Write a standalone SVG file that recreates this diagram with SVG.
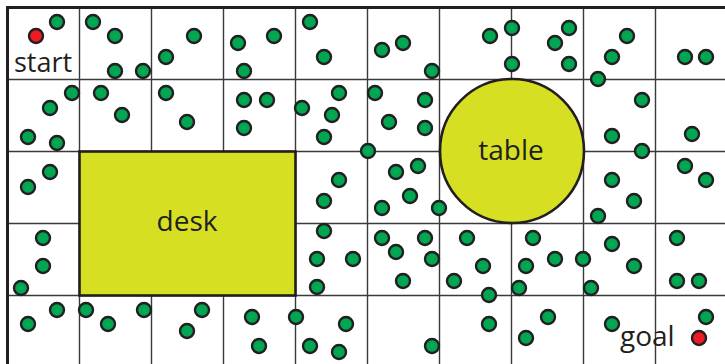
<svg xmlns="http://www.w3.org/2000/svg" width="725" height="364" viewBox="0 0 725 364">
<style>
.grid{stroke:#3a3a3a;stroke-width:1.4;fill:none}
.border{stroke:#231f20;stroke-width:3;fill:none}
.obst{fill:#d7df23;stroke:#231f20;stroke-width:2.6}
.s{fill:#00a651;stroke:#231f20;stroke-width:2.4}
.r{fill:#ed1c24;stroke:#231f20;stroke-width:2.4}
.lbl{font-family:"Open Sans","Noto Sans",sans-serif;font-size:28px;fill:#231f20}
</style>
<rect width="725" height="364" fill="#ffffff"/>
<g id="grid">
<path class="grid" d="M79.5 7V368M151.5 7V368M223.5 7V368M295.5 7V368M367.5 7V368M439.5 7V368M511.5 7V368M583.5 7V368M655.5 7V368M7 79.5H728M7 151.5H728M7 223.5H728M7 295.5H728"/>
<rect class="border" x="7.5" y="7.5" width="721" height="361"/>
</g>
<g id="desk">
<rect class="obst" x="79.5" y="151.5" width="216" height="144"/>
<text class="lbl" x="187" y="231" text-anchor="middle">desk</text>
</g>
<g id="table">
<circle class="obst" cx="512" cy="151" r="72"/>
<text class="lbl" x="511" y="159.5" text-anchor="middle">table</text>
</g>
<g id="samples">
<circle class="s" cx="57" cy="22" r="7"/><circle class="s" cx="93" cy="22" r="7"/><circle class="s" cx="115" cy="36" r="7"/><circle class="s" cx="194" cy="36" r="7"/><circle class="s" cx="238" cy="43" r="7"/><circle class="s" cx="166" cy="57" r="7"/><circle class="s" cx="115" cy="71" r="7"/><circle class="s" cx="143" cy="71" r="7"/><circle class="s" cx="244" cy="71" r="7"/><circle class="s" cx="274" cy="36" r="7"/><circle class="s" cx="310" cy="22" r="7"/><circle class="s" cx="324" cy="57" r="7"/><circle class="s" cx="382" cy="50" r="7"/><circle class="s" cx="403" cy="43" r="7"/><circle class="s" cx="432" cy="71" r="7"/><circle class="s" cx="490" cy="36" r="7"/><circle class="s" cx="512" cy="28" r="7"/><circle class="s" cx="512" cy="64" r="7"/><circle class="s" cx="555" cy="43" r="7"/><circle class="s" cx="569" cy="28" r="7"/><circle class="s" cx="569" cy="64" r="7"/><circle class="s" cx="627" cy="36" r="7"/><circle class="s" cx="612" cy="57" r="7"/><circle class="s" cx="598" cy="79" r="7"/><circle class="s" cx="685" cy="57" r="7"/><circle class="s" cx="706" cy="57" r="7"/>
<circle class="s" cx="72" cy="93" r="7"/><circle class="s" cx="101" cy="93" r="7"/><circle class="s" cx="166" cy="93" r="7"/><circle class="s" cx="50" cy="108" r="7"/><circle class="s" cx="122" cy="115" r="7"/><circle class="s" cx="187" cy="122" r="7"/><circle class="s" cx="28" cy="137" r="7"/><circle class="s" cx="57" cy="143" r="7"/><circle class="s" cx="244" cy="100" r="7"/><circle class="s" cx="267" cy="100" r="7"/><circle class="s" cx="244" cy="128" r="7"/><circle class="s" cx="339" cy="93" r="7"/><circle class="s" cx="302" cy="108" r="7"/><circle class="s" cx="332" cy="115" r="7"/><circle class="s" cx="324" cy="137" r="7"/><circle class="s" cx="375" cy="93" r="7"/><circle class="s" cx="425" cy="100" r="7"/><circle class="s" cx="389" cy="122" r="7"/><circle class="s" cx="425" cy="128" r="7"/><circle class="s" cx="642" cy="100" r="7"/><circle class="s" cx="612" cy="136" r="7"/><circle class="s" cx="642" cy="151" r="7"/><circle class="s" cx="692" cy="134" r="7"/><circle class="s" cx="368" cy="151" r="7"/>
<circle class="s" cx="50" cy="172" r="7"/><circle class="s" cx="28" cy="187" r="7"/><circle class="s" cx="339" cy="180" r="7"/><circle class="s" cx="324" cy="201" r="7"/><circle class="s" cx="396" cy="172" r="7"/><circle class="s" cx="418" cy="166" r="7"/><circle class="s" cx="410" cy="196" r="7"/><circle class="s" cx="382" cy="208" r="7"/><circle class="s" cx="439" cy="208" r="7"/><circle class="s" cx="612" cy="180" r="7"/><circle class="s" cx="685" cy="166" r="7"/><circle class="s" cx="706" cy="180" r="7"/><circle class="s" cx="634" cy="201" r="7"/><circle class="s" cx="598" cy="216" r="7"/>
<circle class="s" cx="43" cy="238" r="7"/><circle class="s" cx="43" cy="266" r="7"/><circle class="s" cx="21" cy="288" r="7"/><circle class="s" cx="324" cy="231" r="7"/><circle class="s" cx="382" cy="238" r="7"/><circle class="s" cx="425" cy="238" r="7"/><circle class="s" cx="467" cy="238" r="7"/><circle class="s" cx="317" cy="259" r="7"/><circle class="s" cx="353" cy="259" r="7"/><circle class="s" cx="396" cy="252" r="7"/><circle class="s" cx="432" cy="259" r="7"/><circle class="s" cx="483" cy="266" r="7"/><circle class="s" cx="317" cy="287" r="7"/><circle class="s" cx="403" cy="281" r="7"/><circle class="s" cx="454" cy="281" r="7"/><circle class="s" cx="489" cy="295" r="7"/><circle class="s" cx="533" cy="238" r="7"/><circle class="s" cx="612" cy="244" r="7"/><circle class="s" cx="677" cy="238" r="7"/><circle class="s" cx="526" cy="266" r="7"/><circle class="s" cx="555" cy="259" r="7"/><circle class="s" cx="583" cy="259" r="7"/><circle class="s" cx="634" cy="266" r="7"/><circle class="s" cx="519" cy="288" r="7"/><circle class="s" cx="591" cy="288" r="7"/><circle class="s" cx="677" cy="281" r="7"/><circle class="s" cx="699" cy="281" r="7"/>
<circle class="s" cx="57" cy="310" r="7"/><circle class="s" cx="28" cy="324" r="7"/><circle class="s" cx="86" cy="310" r="7"/><circle class="s" cx="108" cy="324" r="7"/><circle class="s" cx="144" cy="310" r="7"/><circle class="s" cx="202" cy="310" r="7"/><circle class="s" cx="187" cy="331" r="7"/><circle class="s" cx="252" cy="317" r="7"/><circle class="s" cx="296" cy="317" r="7"/><circle class="s" cx="346" cy="324" r="7"/><circle class="s" cx="259" cy="346" r="7"/><circle class="s" cx="310" cy="346" r="7"/><circle class="s" cx="339" cy="352" r="7"/><circle class="s" cx="432" cy="346" r="7"/><circle class="s" cx="489" cy="324" r="7"/><circle class="s" cx="548" cy="317" r="7"/><circle class="s" cx="526" cy="338" r="7"/><circle class="s" cx="612" cy="324" r="7"/><circle class="s" cx="706" cy="317" r="7"/>
</g>
<g id="start">
<circle class="r" cx="36" cy="36" r="7"/>
<text class="lbl" x="14" y="72" style="font-size:27px">start</text>
</g>
<g id="goal">
<circle class="r" cx="699" cy="338" r="7"/>
<text class="lbl" x="620" y="346">goal</text>
</g>
</svg>
